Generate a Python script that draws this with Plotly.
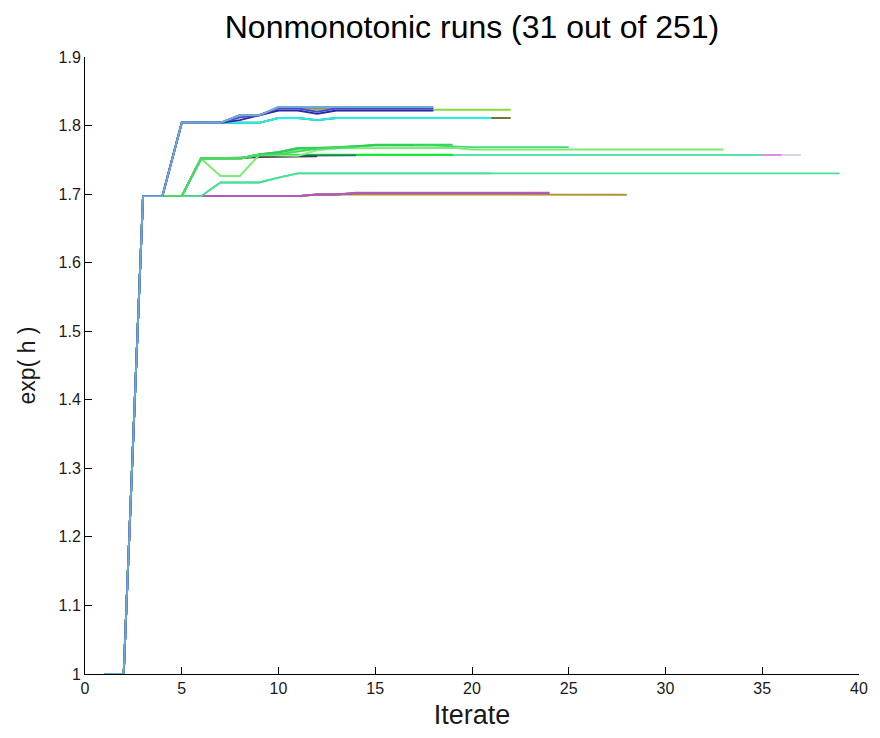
import plotly.graph_objects as go

# ---- data: each run is exp(h) at iterates 1..N ----
P = [1.0, 1.0, 1.697, 1.697]  # shared start (iterates 1-4)

runs_y = [
    # bottom group
    P + [1.697, 1.697, 1.697, 1.697, 1.697, 1.697, 1.697, 1.6995, 1.6995] + [1.699] * 15,      # olive, to 28
    P + [1.697, 1.697, 1.697, 1.697, 1.697, 1.697, 1.697, 1.6995, 1.6995] + [1.7015] * 11,     # brown, to 24
    P + [1.697, 1.697, 1.697, 1.697, 1.697, 1.697, 1.697, 1.6995, 1.6995] + [1.702] * 11,      # purple, to 24
    # lower-middle
    P + [1.697, 1.697, 1.717, 1.717, 1.717, 1.724, 1.7303] + [1.7303] * 28,                   # mint, to 39
    # middle group at ~1.757
    P + [1.697, 1.752, 1.752, 1.752, 1.757] + [1.757] * 28,                                    # light grey, to 37
    P + [1.697, 1.752, 1.752, 1.752, 1.757] + [1.757] * 27,                                    # pink, to 36
    P + [1.697, 1.752, 1.752, 1.752, 1.757] + [1.757] * 26,                                    # mint teal, to 35
    P + [1.697, 1.752, 1.752, 1.752, 1.757] + [1.7575] * 10,                                   # bright green, to 19
    P + [1.697, 1.752, 1.752, 1.752, 1.756, 1.756, 1.756, 1.756, 1.756, 1.7565],               # dark teal, to 14
    P + [1.697, 1.752, 1.752, 1.753, 1.754, 1.754, 1.755, 1.755],                              # dark grey, to 12
    # middle group upper
    P + [1.697, 1.752, 1.7265, 1.7265, 1.757, 1.759, 1.763, 1.767, 1.767, 1.767, 1.767, 1.767, 1.767, 1.767, 1.7675]
      + [1.765] * 14,                                                                            # light green, to 33
    P + [1.697, 1.752, 1.752, 1.752, 1.758, 1.761, 1.7675, 1.7675, 1.7675, 1.7697, 1.771, 1.771, 1.771, 1.771, 1.7697]
      + [1.7685] * 6,                                                                            # green, to 25
    P + [1.697, 1.752, 1.752, 1.752, 1.758, 1.761, 1.7675, 1.7675, 1.768, 1.7697, 1.772, 1.772, 1.772, 1.772, 1.772],  # green, to 19
    P + [1.697, 1.752, 1.752, 1.752, 1.758, 1.761, 1.766, 1.7675, 1.768, 1.7697, 1.7715, 1.7715, 1.7715],  # green, to 17
    P + [1.697, 1.752, 1.752, 1.752, 1.757, 1.757, 1.756, 1.764, 1.766],                      # pale green, to 13
    P + [1.697, 1.752, 1.752, 1.752, 1.757, 1.758, 1.762, 1.766, 1.768, 1.769],               # green, to 14
    # top group
    P + [1.804, 1.804, 1.804, 1.804, 1.804, 1.811, 1.811, 1.808, 1.811] + [1.811] * 9,         # olive, to 22
    P + [1.804, 1.804, 1.804, 1.804, 1.804, 1.811, 1.811, 1.808, 1.811] + [1.811] * 8,         # cyan, to 21
    P + [1.804, 1.804, 1.804, 1.815, 1.815, 1.823, 1.823, 1.823] + [1.823] * 10,               # yellow-green, to 21
    P + [1.804, 1.804, 1.804, 1.815, 1.815, 1.826, 1.826, 1.8245] + [1.826] * 6,               # grey olive, to 18
    P + [1.804, 1.804, 1.804, 1.812, 1.815, 1.823, 1.823, 1.819] + [1.822] * 6,                # lavender, to 18
    P + [1.804, 1.804, 1.804, 1.808, 1.815, 1.822, 1.822, 1.817] + [1.822] * 6,                # dark blue, to 18
    P + [1.804, 1.804, 1.804, 1.812, 1.815, 1.825, 1.825, 1.820] + [1.825] * 6,                # blue, to 18
    P + [1.804, 1.804, 1.804, 1.815, 1.815, 1.827, 1.827, 1.827] + [1.827] * 6,                # steel blue, to 18
    # extra runs hidden beneath others
    P + [1.697, 1.697, 1.697, 1.697, 1.697, 1.697, 1.697, 1.6995, 1.6995] + [1.7015] * 6,      # to 19
    P + [1.697, 1.697, 1.717, 1.717, 1.717, 1.724, 1.7303] + [1.7303] * 10,                   # to 21
    P + [1.697, 1.752, 1.752, 1.752, 1.757] + [1.757] * 12,                                    # to 21
    P + [1.804, 1.804, 1.804, 1.804, 1.804, 1.811, 1.811, 1.808, 1.811] + [1.811] * 4,         # to 17
    P + [1.804, 1.804, 1.804, 1.815, 1.815, 1.825, 1.825, 1.820] + [1.825] * 3,                # to 15
    P + [1.804, 1.804, 1.804, 1.815, 1.815, 1.823, 1.823, 1.823] + [1.823] * 4,                # to 15
    P + [1.804, 1.804, 1.804, 1.815, 1.815, 1.827, 1.827, 1.827] + [1.827] * 2,                # to 14
]

run_colors = [
    "#b09030", "#8a5a8a", "#b458c4",
    "#4ae09a",
    "#d0d8e6", "#e28ae8", "#52e4a8", "#12e42e", "#227a64", "#3c4650",
    "#78ee70", "#46da78", "#3ad45a", "#30cc58", "#8cf08c", "#44d860",
    "#6c7a2c", "#22eef0", "#86dc3c", "#8c9a82", "#dcd0f4", "#2a2aa0", "#4646dc", "#70a8d6",
    "#b458c4", "#4ae09a", "#52e4a8", "#22eef0", "#4646dc", "#86dc3c", "#70a8d6",
]

# draw order: hidden extras first, then the visible runs
order = list(range(24, 31)) + list(range(0, 24))

x_ticks = [0, 5, 10, 15, 20, 25, 30, 35, 40]
y_ticks = [1, 1.1, 1.2, 1.3, 1.4, 1.5, 1.6, 1.7, 1.8, 1.9]
y_tick_labels = ["1", "1.1", "1.2", "1.3", "1.4", "1.5", "1.6", "1.7", "1.8", "1.9"]

FONT = "Liberation Sans, Arial, sans-serif"

fig = go.Figure()
for i in order:
    ys = runs_y[i]
    xs = list(range(1, len(ys) + 1))
    fig.add_trace(go.Scatter(x=xs, y=ys, mode="lines",
                             line=dict(color=run_colors[i], width=1.9),
                             showlegend=False, hoverinfo="skip"))

axis_common = dict(showgrid=False, zeroline=False, showline=True, linecolor="black",
                   linewidth=1, ticks="inside", ticklen=7, tickwidth=1, tickcolor="black",
                   mirror=False, layer="below traces",
                   tickfont=dict(family=FONT, size=16, color="#1a1a1a"))

fig.update_layout(
    width=880, height=738,
    margin=dict(l=85, r=12, t=57, b=64),
    paper_bgcolor="white", plot_bgcolor="white",
    title=dict(text="Nonmonotonic runs (31 out of 251)", x=472 / 880, xanchor="center",
               y=1 - 27 / 738, yanchor="middle",
               font=dict(family=FONT, size=32, color="black")),
    xaxis=dict(range=[0, 40], tickvals=x_ticks,
               title=dict(text="Iterate", standoff=8,
                          font=dict(family=FONT, size=27, color="#1a1a1a")),
               **axis_common),
    yaxis=dict(range=[1, 1.9], tickvals=y_ticks, ticktext=y_tick_labels,
               title=dict(text="exp( h )", standoff=16,
                          font=dict(family=FONT, size=23, color="#1a1a1a")),
               **axis_common),
)

fig.write_html("out.html")
